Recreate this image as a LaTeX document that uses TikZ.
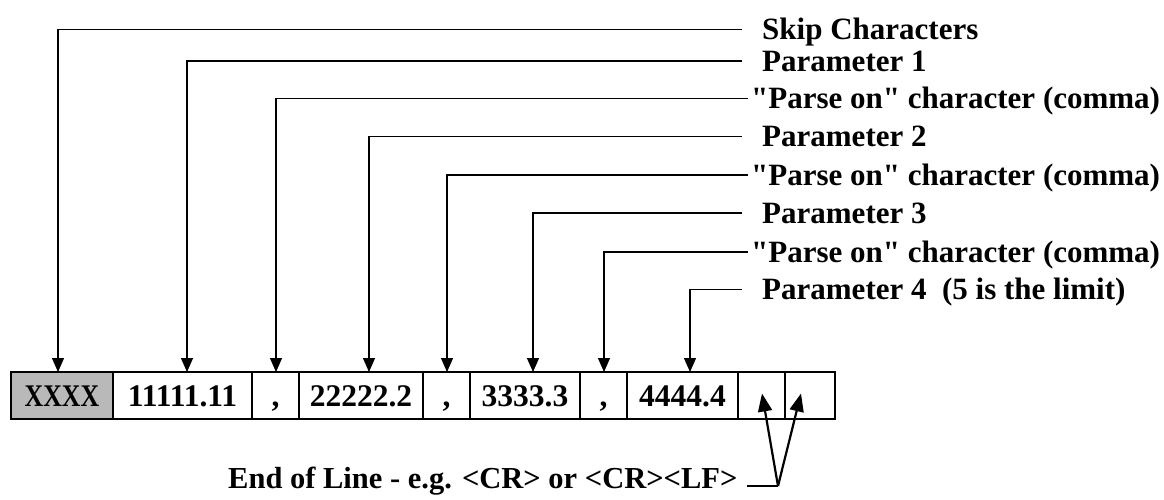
\documentclass[tikz,border=0pt]{standalone}
\usepackage{fontspec}
\usepackage{graphicx}
\setmainfont{Liberation Serif}[Ligatures=TeXOff]
\usetikzlibrary{arrows.meta}
\begin{document}
\begin{tikzpicture}[x=1pt,y=-1pt,
  txt/.style={font=\fontsize{31}{36}\selectfont\bfseries},
  celltxt/.style={font=\fontsize{31.5}{36}\selectfont\bfseries},
  cell/.style={draw, line width=1.3pt, inner sep=0pt, outer sep=0pt, minimum height=47pt,
    text height=21pt, text depth=0pt, anchor=west, celltxt},
  skipcell/.style={cell, fill=gray!55},
  lab/.style={anchor=base west, inner sep=0pt, txt},
  conn/.style={line width=1.3pt},
  arr/.style={conn, -{Triangle[width=12pt,length=14pt]}},
  eolarr/.style={line width=2.2pt, -{Triangle[width=14pt,length=18pt]}}
]
\useasboundingbox (0,0) rectangle (1164,499);
% record cells
\node[skipcell, minimum width=102pt] (c1) at (11,395.5) {\scalebox{0.82}[1]{XXXX}};
\node[cell, minimum width=139pt] (c2) at (113,395.5) {11111.11};
\node[cell, minimum width=47pt] (c3) at (252,395.5) {,};
\node[cell, minimum width=124pt] (c4) at (299,395.5) {22222.2};
\node[cell, minimum width=47pt] (c5) at (423,395.5) {,};
\node[cell, minimum width=110pt] (c6) at (470,395.5) {3333.3};
\node[cell, minimum width=47pt] (c7) at (580,395.5) {,};
\node[cell, minimum width=111pt] (c8) at (627,395.5) {4444.4};
\node[cell, minimum width=47pt] (c9) at (738,395.5) {};
\node[cell, minimum width=50pt] (c10) at (785,395.5) {};
% labels
\node[lab] (l1) at (762,39.5) {Skip Characters};
\node[lab] (l2) at (762,71) {Parameter 1};
\node[lab] (l3) at (751,108.5) {"Parse on" character (comma)};
\node[lab] (l4) at (762,146.5) {Parameter 2};
\node[lab] (l5) at (751,185) {"Parse on" character (comma)};
\node[lab] (l6) at (762,223) {Parameter 3};
\node[lab] (l7) at (751,262) {"Parse on" character (comma)};
\node[lab] (l8) at (762,299.5) {Parameter 4\ \ (5 is the limit)};
% line ends
\coordinate (s1) at (742,29.5);
\coordinate (s2) at (742,61);
\coordinate (s3) at (748,98.5);
\coordinate (s4) at (742,136.5);
\coordinate (s5) at (748,175);
\coordinate (s6) at (742,213);
\coordinate (s7) at (748,252);
\coordinate (s8) at (742,289.5);
\draw[arr] (s1) -| ([xshift=-4pt]c1.north);
\draw[arr] (s2) -| ([xshift=4.5pt]c2.north);
\draw[arr] (s3) -| ([xshift=0.5pt]c3.north);
\draw[arr] (s4) -| ([xshift=8pt]c4.north);
\draw[arr] (s5) -| ([xshift=0.5pt]c5.north);
\draw[arr] (s6) -| ([xshift=8pt]c6.north);
\draw[arr] (s7) -| ([xshift=0.5pt]c7.north);
\draw[arr] (s8) -| ([xshift=7.5pt]c8.north);
% end of line
\node[lab, font=\fontsize{30.5}{36}\selectfont\bfseries] (eol) at (228,488) {End of Line - e.g. <CR> or <CR><LF>};
\coordinate (h1) at (747,486);
\coordinate (h2) at (778,486);
\draw[line width=2.2pt] (h1) -- (h2);
\draw[eolarr] (h2) -- ([xshift=0.5pt,yshift=2pt]c9.center);
\draw[eolarr] (h2) -- ([xshift=-9pt,yshift=2pt]c10.center);
\end{tikzpicture}
\end{document}
